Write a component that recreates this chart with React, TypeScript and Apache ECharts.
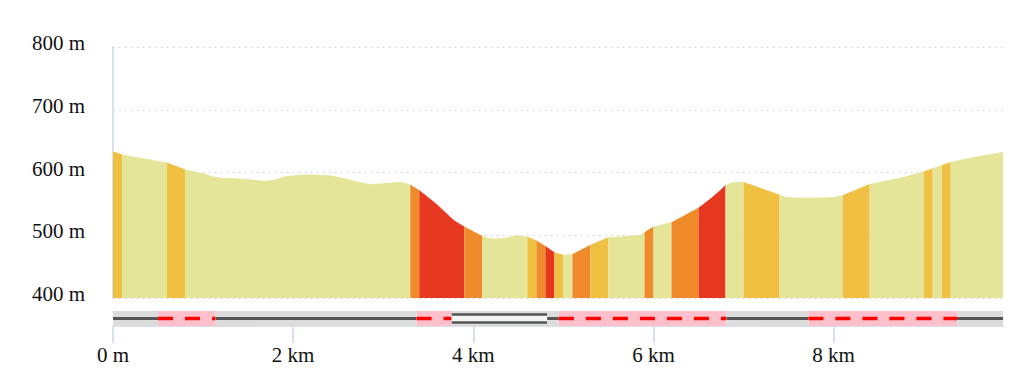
import React, { useEffect, useRef } from "react";
import * as echarts from "echarts";

// Elevation profile (distance in km, elevation in m)
const profileKm = [
  0, 0.1, 0.6, 0.8, 1.0, 1.13, 1.47, 1.69, 1.8, 1.91, 2.17, 2.43, 2.74, 2.86, 3.0, 3.2, 3.3,
  3.4, 3.6, 3.78, 3.9, 4.1, 4.22, 4.3, 4.49, 4.6, 4.7, 4.8, 4.9, 5.0, 5.1, 5.3, 5.5, 5.85,
  5.9, 6.0, 6.2, 6.5, 6.66, 6.8, 6.9, 7.0, 7.4, 7.48, 7.77, 8.0, 8.1, 8.4, 8.8, 9.0, 9.1,
  9.2, 9.3, 9.6, 9.88,
];
const profileElev = [
  633, 628, 615, 604, 598, 592, 589, 586, 588, 593, 596, 594, 584, 581, 582, 584, 580,
  571, 548, 524, 513, 498, 494, 494, 499, 497, 491, 482, 472, 468, 469, 484, 496, 500,
  504, 513, 520, 543, 561, 579, 584, 584, 564, 560, 559, 560, 563, 581, 593, 601, 606,
  611, 616, 625, 632,
];

// Slope segments
const slopeBreaksKm = [
  0, 0.1, 0.6, 0.8, 3.3, 3.4, 3.9, 4.1, 4.6, 4.7, 4.8, 4.9, 5.0, 5.1, 5.3, 5.5, 5.9, 6.0,
  6.2, 6.5, 6.8, 7.0, 7.4, 8.1, 8.4, 9.0, 9.1, 9.2, 9.3, 9.88,
];
const slopeClasses = [
  "Y", "L", "Y", "L", "O", "R", "O", "L", "Y", "O", "R", "Y", "L", "O", "Y", "L", "O", "L",
  "O", "R", "L", "Y", "L", "Y", "L", "Y", "L", "Y", "L",
];

// Surface / way type segments
const trackBreaksKm = [0, 0.5, 1.14, 3.37, 3.76, 4.82, 4.95, 6.81, 7.72, 9.37, 9.88];
const trackTypes = ["road", "path", "road", "path", "bridge", "road", "path", "road", "path", "road"];

// Axis ticks
const elevTicks = [400, 500, 600, 700, 800];
const distTicks = [0, 2, 4, 6, 8];

const slopeColors: Record<string, string> = {
  L: "#e4e598",
  Y: "#f0c043",
  O: "#ef8b2a",
  R: "#e5381e",
};

const FONT = "'Liberation Serif', 'Times New Roman', serif";
const AXIS_COLOR = "#ccd6eb";

export default function App() {
  const ref = useRef<HTMLDivElement>(null);

  useEffect(() => {
    if (!ref.current) return;
    const chart = echarts.init(ref.current, null, { renderer: "svg" });
    const maxKm = profileKm[profileKm.length - 1];

    const areaSeries = slopeClasses.map((cls, i) => {
      const s = slopeBreaksKm[i];
      const e = slopeBreaksKm[i + 1];
      const data = profileKm
        .map((d, j) => [d, profileElev[j]])
        .filter((p) => p[0] >= s - 1e-9 && p[0] <= e + 1e-9);
      const c = slopeColors[cls];
      return {
        type: "line",
        xAxisIndex: 0,
        yAxisIndex: 0,
        data,
        symbol: "none",
        silent: true,
        smooth: 0.25,
        z: 2,
        lineStyle: { color: c, width: 1 },
        areaStyle: { color: c, opacity: 1 },
      };
    });

    const trackData = trackTypes.map((t, i) => [trackBreaksKm[i], trackBreaksKm[i + 1], i]);

    const trackSeries = {
      type: "custom",
      xAxisIndex: 1,
      yAxisIndex: 1,
      silent: true,
      data: trackData,
      renderItem: (params: any, api: any) => {
        const s = api.value(0);
        const e = api.value(1);
        const t = trackTypes[api.value(2)];
        const p0 = api.coord([s, 1]);
        const p1 = api.coord([e, 0]);
        const x0 = p0[0];
        const x1 = p1[0];
        const top = p0[1];
        const bot = p1[1];
        const mid = (top + bot) / 2;
        const children: any[] = [];
        if (t === "path") {
          children.push({
            type: "rect",
            shape: { x: x0, y: top, width: x1 - x0, height: bot - top },
            style: { fill: "#ffc0cb" },
          });
          children.push({
            type: "line",
            shape: { x1: x0, y1: mid, x2: x1, y2: mid },
            style: { stroke: "#ff0000", lineWidth: 3.5, lineDash: [15, 12] },
          });
        } else if (t === "bridge") {
          children.push({
            type: "rect",
            shape: { x: x0, y: top, width: x1 - x0, height: bot - top },
            style: { fill: "#dcdcdc" },
          });
          children.push({
            type: "rect",
            shape: { x: x0, y: mid - 4, width: x1 - x0, height: 8 },
            style: { fill: "#f4f4f4" },
          });
          children.push({
            type: "line",
            shape: { x1: x0, y1: mid - 4, x2: x1, y2: mid - 4 },
            style: { stroke: "#555555", lineWidth: 2.5 },
          });
          children.push({
            type: "line",
            shape: { x1: x0, y1: mid + 4, x2: x1, y2: mid + 4 },
            style: { stroke: "#555555", lineWidth: 2.5 },
          });
        } else {
          children.push({
            type: "rect",
            shape: { x: x0, y: top, width: x1 - x0, height: bot - top },
            style: { fill: "#dcdcdc" },
          });
          children.push({
            type: "line",
            shape: { x1: x0, y1: mid, x2: x1, y2: mid },
            style: { stroke: "#555555", lineWidth: 3 },
          });
        }
        return { type: "group", children };
      },
    };

    chart.setOption({
      animation: false,
      backgroundColor: "#ffffff",
      textStyle: { fontFamily: FONT },
      grid: [
        { left: 113, right: 21, top: 47, height: 251 },
        { left: 113, right: 21, top: 311, height: 15 },
      ],
      xAxis: [
        {
          gridIndex: 0,
          type: "value",
          min: 0,
          max: maxKm,
          show: false,
        },
        {
          gridIndex: 1,
          type: "value",
          min: 0,
          max: maxKm,
          interval: 2,
          axisLine: { show: true, lineStyle: { color: AXIS_COLOR, width: 1.5 } },
          axisTick: { show: true, length: 17, lineStyle: { color: AXIS_COLOR, width: 1.5 } },
          splitLine: { show: false },
          axisLabel: {
            show: true,
            margin: 18,
            fontSize: 21,
            fontFamily: FONT,
            color: "#111111",
            showMaxLabel: false,
            formatter: (v: number) =>
              distTicks.includes(v) ? (v === 0 ? "0 m" : `${v} km`) : "",
          },
        },
      ],
      yAxis: [
        {
          gridIndex: 0,
          type: "value",
          min: elevTicks[0],
          max: elevTicks[elevTicks.length - 1],
          interval: 100,
          axisLine: { show: true, lineStyle: { color: AXIS_COLOR, width: 1.5 } },
          axisTick: { show: false },
          splitLine: {
            show: true,
            lineStyle: { color: "#cfcfcf", width: 1.2, type: [1.5, 4.5] },
          },
          axisLabel: {
            margin: 28,
            fontSize: 21,
            fontFamily: FONT,
            color: "#111111",
            formatter: (v: number) => `{a|${v} m}`,
            rich: {
              a: {
                fontSize: 21,
                fontFamily: FONT,
                color: "#111111",
                padding: [0, 0, 8, 0],
              },
            },
          },
        },
        {
          gridIndex: 1,
          type: "value",
          min: 0,
          max: 1,
          show: false,
        },
      ],
      series: [...areaSeries, trackSeries],
    });

    return () => {
      chart.dispose();
    };
  }, []);

  return (
    <div
      ref={ref}
      style={{ position: "absolute", left: 0, top: 0, width: 1024, height: 392 }}
    />
  );
}
